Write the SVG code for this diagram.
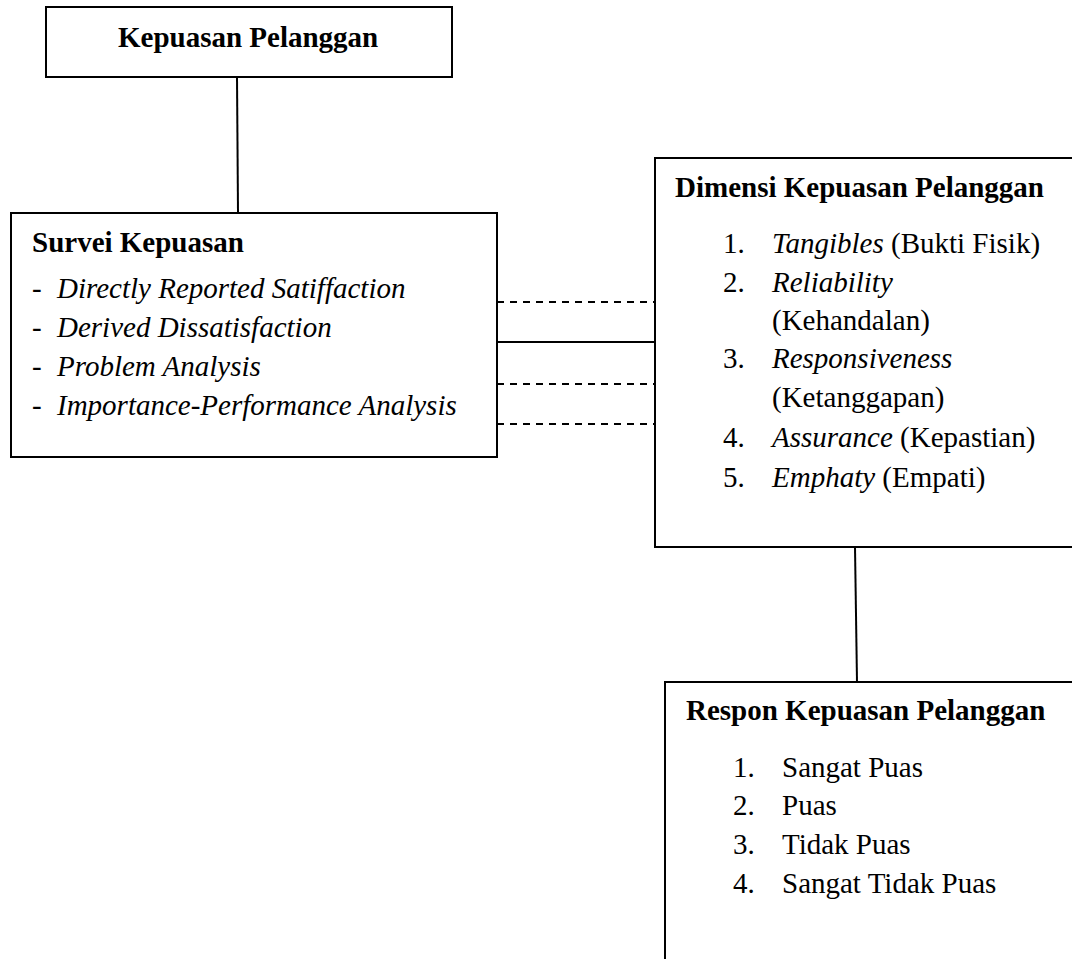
<svg xmlns="http://www.w3.org/2000/svg" width="1072" height="959" viewBox="0 0 1072 959">
<style>
  .box { fill: #ffffff; stroke: #000000; stroke-width: 2; }
  .t { font-family: "Liberation Serif", "Times New Roman", serif; font-size: 29px; fill: #000000; }
  .b { font-weight: bold; }
  .i { font-style: italic; }
  .solid { stroke: #000000; stroke-width: 2; fill: none; }
  .dash { stroke: #000000; stroke-width: 2; fill: none; stroke-dasharray: 7 6; }
</style>
<rect width="1072" height="959" fill="#ffffff"/>
<g id="connectors">
  <line class="solid" x1="237" y1="77" x2="238" y2="213"/>
  <line class="dash" x1="497" y1="302" x2="655" y2="302"/>
  <line class="solid" x1="497" y1="342" x2="655" y2="342"/>
  <line class="dash" x1="497" y1="384" x2="655" y2="384"/>
  <line class="dash" x1="497" y1="424" x2="655" y2="424"/>
  <line class="solid" x1="855" y1="547" x2="857" y2="682"/>
</g>
<g id="node-kepuasan">
  <rect class="box" x="46" y="7" width="406" height="70"/>
  <text class="t b" x="118" y="47">Kepuasan Pelanggan</text>
</g>
<g id="node-survei">
  <rect class="box" x="11" y="213" width="486" height="244"/>
  <text class="t b" x="32" y="252">Survei Kepuasan</text>
  <text class="t" x="32" y="298">-</text><text class="t i" x="57" y="298">Directly Reported Satiffaction</text>
  <text class="t" x="32" y="337">-</text><text class="t i" x="57" y="337">Derived Dissatisfaction</text>
  <text class="t" x="32" y="376">-</text><text class="t i" x="57" y="376">Problem Analysis</text>
  <text class="t" x="32" y="415">-</text><text class="t i" x="57" y="415">Importance-Performance Analysis</text>
</g>
<g id="node-dimensi">
  <rect class="box" x="655" y="158" width="430" height="389"/>
  <text class="t b" x="675" y="197">Dimensi Kepuasan Pelanggan</text>
  <text class="t" x="723" y="253">1.</text><text class="t" x="772" y="253"><tspan class="i">Tangibles</tspan> (Bukti Fisik)</text>
  <text class="t" x="723" y="292">2.</text><text class="t i" x="772" y="292">Reliability</text>
  <text class="t" x="772" y="330">(Kehandalan)</text>
  <text class="t" x="723" y="368">3.</text><text class="t i" x="772" y="368">Responsiveness</text>
  <text class="t" x="772" y="407">(Ketanggapan)</text>
  <text class="t" x="723" y="447">4.</text><text class="t" x="772" y="447"><tspan class="i">Assurance</tspan> (Kepastian)</text>
  <text class="t" x="723" y="487">5.</text><text class="t" x="772" y="487"><tspan class="i">Emphaty</tspan> (Empati)</text>
</g>
<g id="node-respon">
  <rect class="box" x="665" y="682" width="420" height="300"/>
  <text class="t b" x="686" y="720">Respon Kepuasan Pelanggan</text>
  <text class="t" x="733" y="777">1.</text><text class="t" x="782" y="777">Sangat Puas</text>
  <text class="t" x="733" y="815">2.</text><text class="t" x="782" y="815">Puas</text>
  <text class="t" x="733" y="854">3.</text><text class="t" x="782" y="854">Tidak Puas</text>
  <text class="t" x="733" y="893">4.</text><text class="t" x="782" y="893">Sangat Tidak Puas</text>
</g>
</svg>
